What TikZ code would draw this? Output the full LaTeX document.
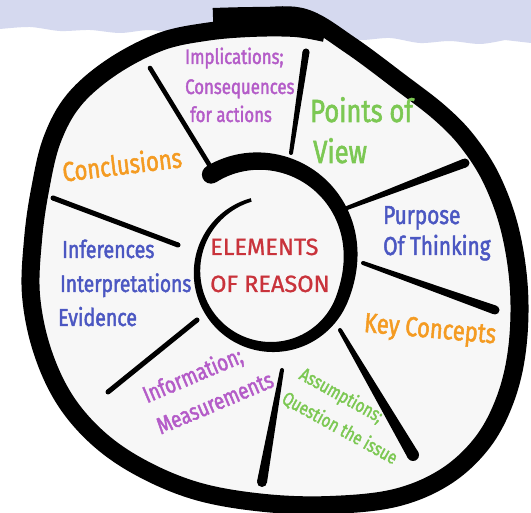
\documentclass[tikz,border=0pt]{standalone}
\usepackage{fontspec}
\setmainfont{Fira Sans}[FakeStretch=0.8, FakeBold=1.8]
\newfontfamily\headfont{Fira Sans}[FakeBold=1]
\usetikzlibrary{calc}
\definecolor{cpurple}{HTML}{B45CC8}
\definecolor{cgreen}{HTML}{7CC853}
\definecolor{corange}{HTML}{F49B22}
\definecolor{cblue}{HTML}{4B57C2}
\definecolor{cred}{HTML}{C9333B}
\definecolor{cband}{HTML}{D5D9EF}
\definecolor{cfill}{HTML}{F7F7F7}
\newcommand\spoke[4]{%
  \fill ($(#1)!#3!90:(#2)$) -- ($(#2)!#4!-90:(#1)$) -- ($(#2)!#4!90:(#1)$) -- ($(#1)!#3!-90:(#2)$) -- cycle;
  \fill (#1) circle[radius=#3];
  \fill (#2) circle[radius=#4];}
\tikzset{
  lbl/.style={inner sep=0pt, anchor=base west},
  clbl/.style={inner sep=0pt, anchor=center},
  fs/.style={font=\fontsize{#1}{#1}\selectfont},
}
\begin{document}
\begin{tikzpicture}[x=1pt,y=-1pt,
  declare function={
    kk(\s)=max(0,min(1,(\s-0.62)/0.38));
    rr(\s)=75+40*kk(\s)*kk(\s)*(3-2*kk(\s));
    ww(\s)=3.5+15*\s;
    th(\s)=254-376*\s;
  }]
\useasboundingbox (0,0) rectangle (531,513);
\fill[white] (0,0) rectangle (531,513);
% top band
\fill[cband] (0,0) -- (531,0) -- (531,43) -- plot[smooth] coordinates {(505,40) (480,44) (450,41) (420,43) (390,38) (360,40) (330,36) (300,38) (270,34) (240,36) (210,31) (180,34) (150,30) (120,33) (90,30) (60,31) (30,27) (0,29)} -- cycle;
% interior
\fill[cfill] plot[smooth cycle, tension=0.6] coordinates {(260,24) (305,24) (350,45) (400,82) (440,113) (468,142) (492,180) (510,230) (519,290) (517,350) (505,400) (482,443) (445,477) (395,498) (330,506) (265,503) (200,492) (145,470) (100,440) (65,400) (42,350) (31,295) (33,240) (40,190) (52,140) (74,100) (112,67) (160,42) (205,32)};
% outer spiral ring
\draw[line width=18pt, line cap=butt] plot[smooth, tension=0.6] coordinates {(213,17) (260,16) (305,18) (350,45) (400,82) (440,113) (468,142) (492,180) (510,230) (519,290) (517,350) (505,400) (482,443) (445,477) (395,498) (330,505) (265,503) (200,492) (145,470) (100,440) (65,400) (42,350) (31,295) (33,240) (40,190) (52,140) (74,100) (112,67) (160,42) (205,32) (250,28) (295,28) (325,33)};
% inner spiral
\fill[black] plot[domain=0:1, samples=160, variable=\s] ({272+(rr(\s)+ww(\s)/2)*cos(th(\s))},{272+(rr(\s)+ww(\s)/2)*sin(th(\s))})
  -- plot[domain=0:1, samples=160, variable=\s] ({272+(rr(1-\s)-ww(1-\s)/2)*cos(th(1-\s))},{272+(rr(1-\s)-ww(1-\s)/2)*sin(th(1-\s))}) -- cycle;
\coordinate (hook) at ({272+115*cos(-122)},{272+115*sin(-122)});
\fill (hook) circle[radius=9.2pt];
% spokes
\coordinate (s1a) at (150,68);  \coordinate (s1b) at (210,166);
\coordinate (s2a) at (291,153); \coordinate (s2b) at (306,52);
\coordinate (s3a) at (347,208); \coordinate (s3b) at (465,163);
\coordinate (s4a) at (363,263); \coordinate (s4b) at (495,310);
\coordinate (s5a) at (340,330); \coordinate (s5b) at (413,455);
\coordinate (s6a) at (282,370); \coordinate (s6b) at (262,482);
\coordinate (s7a) at (197,320); \coordinate (s7b) at (108,392);
\coordinate (s8a) at (178,245); \coordinate (s8b) at (53,198);
\spoke{s1a}{s1b}{2.3pt}{2.3pt}
\spoke{s2a}{s2b}{2pt}{3.5pt}
\spoke{s3a}{s3b}{2pt}{4.5pt}
\spoke{s4a}{s4b}{2pt}{4.5pt}
\spoke{s5a}{s5b}{2pt}{6pt}
\spoke{s6a}{s6b}{2pt}{5pt}
\spoke{s7a}{s7b}{2.5pt}{2.5pt}
\spoke{s8a}{s8b}{2.5pt}{2.5pt}
% labels
\node[lbl, text=cpurple, fs=21] (imp1) at (185,64) {Implications;};
\node[lbl, text=cpurple, fs=21] (imp2) at (185,94) {Consequences};
\node[lbl, text=cpurple, fs=21] (imp3) at (190,122) {for actions};
\node[lbl, text=cgreen, fs=32] (pov1) at (310,122) {Points of};
\node[lbl, text=cgreen, fs=32] (pov2) at (313,163) {View};
\node[clbl, text=corange, fs=27.5, rotate=7] (concl) at (122,164) {Conclusions};
\node[lbl, text=cblue, fs=24.5] (inf1) at (62,258) {Inferences};
\node[lbl, text=cblue, fs=24] (inf2) at (60,292) {Interpretations};
\node[lbl, text=cblue, fs=24.5] (inf3) at (58,326) {Evidence};
\node[lbl, text=cred, font=\headfont\fontsize{23.5}{24}\selectfont] (el1) at (210,255) {ELEMENTS};
\node[lbl, text=cred, font=\headfont\fontsize{23.5}{24}\selectfont] (el2) at (210,292) {OF REASON};
\node[lbl, text=cblue, fs=26] (pur1) at (383,224) {Purpose};
\node[lbl, text=cblue, fs=26] (pur2) at (383,255) {Of Thinking};
\node[clbl, text=corange, fs=27.5, rotate=-5] (key) at (430,331) {Key Concepts};
\node[clbl, text=cpurple, fs=23.5, rotate=23] (info1) at (193,376) {Information;};
\node[clbl, text=cpurple, fs=23.5, rotate=23] (info2) at (215,403) {Measurements};
\node[clbl, text=cgreen, fs=19, rotate=-29] (as1) at (341,396) {Assumptions;};
\node[clbl, text=cgreen, fs=19, rotate=-29] (as2) at (340,428) {Question the issue};
\end{tikzpicture}
\end{document}
